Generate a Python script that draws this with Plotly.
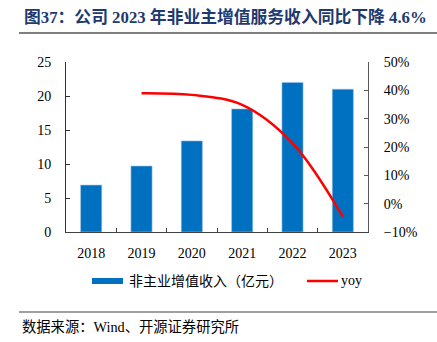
import plotly.graph_objects as go

years = ["2018", "2019", "2020", "2021", "2022", "2023"]
revenue = [6.9, 9.7, 13.4, 18.1, 22.0, 21.0]
yoy_years = ["2019", "2020", "2021", "2022", "2023"]
yoy = [0.390, 0.384, 0.349, 0.214, -0.046]

title_text = "图37：公司 2023 年非业主增值服务收入同比下降 4.6%"
source_text = "数据来源：Wind、开源证券研究所"
bar_name = "非主业增值收入（亿元）"
line_name = "yoy"

FONT = "Liberation Serif, Times New Roman, Noto Sans CJK SC"

fig = go.Figure()
fig.add_trace(go.Bar(
    x=years, y=revenue, name=bar_name,
    marker=dict(color="#0070C0", line=dict(color="#9DC3E6", width=0.6)),
    yaxis="y", showlegend=False,
))
fig.add_trace(go.Scatter(
    x=yoy_years, y=yoy, name=line_name, mode="lines",
    line=dict(color="#FF0000", width=2.5, shape="spline", smoothing=1.0),
    yaxis="y2", showlegend=False,
))

W, H = 437, 342
ml, mr, mt, mb = 66, 69, 62, 110

fig.update_layout(
    width=W, height=H,
    margin=dict(l=ml, r=mr, t=mt, b=mb, pad=0),
    paper_bgcolor="white", plot_bgcolor="white",
    font=dict(family=FONT, size=13, color="#000000"),
    bargap=0.58,
    xaxis=dict(
        type="category", showline=True, linecolor="#404040", linewidth=1,
        ticks="inside", tickson="boundaries", ticklen=4, tickcolor="#404040",
        showgrid=False, zeroline=False, ticklabelstandoff=8,
        tickfont=dict(family=FONT, size=14, color="#000000"),
    ),
    yaxis=dict(
        range=[0, 25], dtick=5, showline=True, linecolor="#303030", linewidth=1,
        ticks="inside", ticklen=4, tickcolor="#303030", showgrid=False,
        zeroline=False, ticklabelstandoff=11,
        tickfont=dict(family=FONT, size=14, color="#000000"),
    ),
    yaxis2=dict(
        range=[-0.1, 0.5], dtick=0.1, tickformat=".0%", overlaying="y",
        side="right", showline=True, linecolor="#595959", linewidth=1,
        ticks="inside", ticklen=4, tickcolor="#595959", showgrid=False,
        zeroline=False, ticklabelstandoff=12,
        tickfont=dict(family=FONT, size=14, color="#000000"),
    ),
)


def pxx(x):
    return (x - ml) / (W - ml - mr)


def pxy(y):
    return (H - mb - y) / (H - mt - mb)


shapes = []
# title underline
shapes.append(dict(type="line", xref="paper", yref="paper",
                   x0=pxx(19), x1=pxx(437), y0=pxy(33), y1=pxy(33),
                   line=dict(color="#808080", width=2)))
# source top line
shapes.append(dict(type="line", xref="paper", yref="paper",
                   x0=pxx(19), x1=pxx(437), y0=pxy(312), y1=pxy(312),
                   line=dict(color="#808080", width=1.5)))
# legend: bar swatch
shapes.append(dict(type="rect", xref="paper", yref="paper",
                   x0=pxx(92), x1=pxx(123), y0=pxy(284), y1=pxy(278),
                   fillcolor="#0070C0", line=dict(width=0)))
# legend: line swatch
shapes.append(dict(type="line", xref="paper", yref="paper",
                   x0=pxx(307), x1=pxx(338), y0=pxy(281), y1=pxy(281),
                   line=dict(color="#FF0000", width=2.5)))

annotations = [
    dict(text="<b>" + title_text + "</b>", xref="paper", yref="paper",
         x=pxx(22), y=pxy(17), xanchor="left", yanchor="middle", showarrow=False,
         font=dict(family=FONT, size=16.8, color="#1F3A6E")),
    dict(text=source_text, xref="paper", yref="paper",
         x=pxx(20), y=pxy(327), xanchor="left", yanchor="middle", showarrow=False,
         font=dict(family=FONT, size=14.3, color="#000000")),
    dict(text=bar_name, xref="paper", yref="paper",
         x=pxx(127), y=pxy(281), xanchor="left", yanchor="middle", showarrow=False,
         font=dict(family=FONT, size=14, color="#000000")),
    dict(text=line_name, xref="paper", yref="paper",
         x=pxx(339), y=pxy(280), xanchor="left", yanchor="middle", showarrow=False,
         font=dict(family=FONT, size=14, color="#000000")),
]

fig.update_layout(shapes=shapes, annotations=annotations)
fig.write_html("out.html")
